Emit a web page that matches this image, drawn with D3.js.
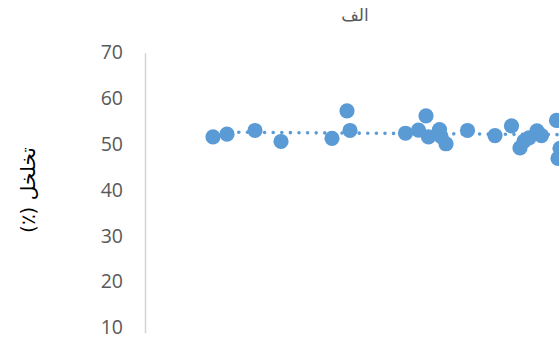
<!DOCTYPE html>
<html>
<head>
<meta charset="utf-8">
<script src="https://cdn.jsdelivr.net/npm/d3@7/dist/d3.min.js"></script>
<style>
  html, body { margin: 0; padding: 0; background: #fff; overflow: hidden; }
  svg { display: block; }
</style>
</head>
<body>
<svg id="chart" width="559" height="339"></svg>
<script>
// Sample positions and porosity (%) values
const sampleX = [13.6, 16.4, 22.0, 27.2, 37.4, 40.4, 41.0, 52.1, 54.7, 56.2, 56.7, 58.9, 59.2, 60.2,
                 64.5, 70.0, 73.3, 75.0, 75.8, 76.8, 78.4, 79.3, 82.3, 83.0, 82.6];
const porosity = [51.6, 52.2, 53.0, 50.6, 51.3, 57.3, 53.0, 52.4, 53.1, 56.2, 51.6, 53.2, 51.7, 50.1,
                  53.0, 51.9, 54.0, 49.2, 50.7, 51.4, 52.9, 51.9, 55.2, 49.1, 46.9];
// Linear trendline end points
const trendX = [13.6, 90];
const trendY = [52.66, 52.03];
// Vertical axis ticks
const yTicks = [10, 20, 30, 40, 50, 60, 70];
const chartTitle = "الف";
const yTitle = "تخلخل (٪)";

const blue = "#5B9BD5";
const svg = d3.select("#chart");

// Visible drawing area ends just under the lowest tick
svg.append("defs").append("clipPath").attr("id", "area")
  .append("rect").attr("x", 0).attr("y", 0).attr("width", 559).attr("height", 334);

const root = svg.append("g").attr("clip-path", "url(#area)");

const x = d3.scaleLinear().domain([0, 90]).range([145, 595]);
const y = d3.scaleLinear().domain([8.75, 70]).range([333, 52.7]);

// Vertical axis
const yAxis = d3.axisLeft(y)
  .tickValues(yTicks)
  .tickSize(0)
  .tickPadding(22)
  .tickFormat(d3.format("d"));

const gy = root.append("g")
  .attr("transform", "translate(145,0)")
  .call(yAxis);
gy.select(".domain").attr("stroke", "#d4d4d4").attr("stroke-width", 1.5);
gy.selectAll(".tick text")
  .attr("fill", "#595959")
  .attr("font-family", "'Open Sans', sans-serif")
  .attr("font-size", "19.5px");

// Trendline
const trend = trendX.map((v, i) => [v, trendY[i]]);
root.append("path")
  .datum(trend)
  .attr("d", d3.line().x(d => x(d[0])).y(d => y(d[1])))
  .attr("fill", "none")
  .attr("stroke", blue)
  .attr("stroke-width", 3.6)
  .attr("stroke-linecap", "round")
  .attr("stroke-dasharray", "0 8.6");

// Markers
const pts = sampleX.map((v, i) => ({ x: v, y: porosity[i] }));
root.append("g")
  .selectAll("circle")
  .data(pts)
  .join("circle")
  .attr("cx", d => x(d.x))
  .attr("cy", d => y(d.y))
  .attr("r", 7.6)
  .attr("fill", blue);

// Chart title
root.append("text")
  .attr("x", 355)
  .attr("y", 21)
  .attr("text-anchor", "middle")
  .attr("direction", "rtl")
  .attr("fill", "#595959")
  .attr("font-family", "'DejaVu Sans', sans-serif")
  .attr("font-size", "17px")
  .text(chartTitle);

// Vertical axis title
root.append("text")
  .attr("transform", "translate(35,190) rotate(-90)")
  .attr("text-anchor", "middle")
  .attr("direction", "rtl")
  .attr("fill", "#000")
  .attr("font-family", "'DejaVu Sans', sans-serif")
  .attr("font-size", "20px")
  .text(yTitle);
</script>
</body>
</html>
